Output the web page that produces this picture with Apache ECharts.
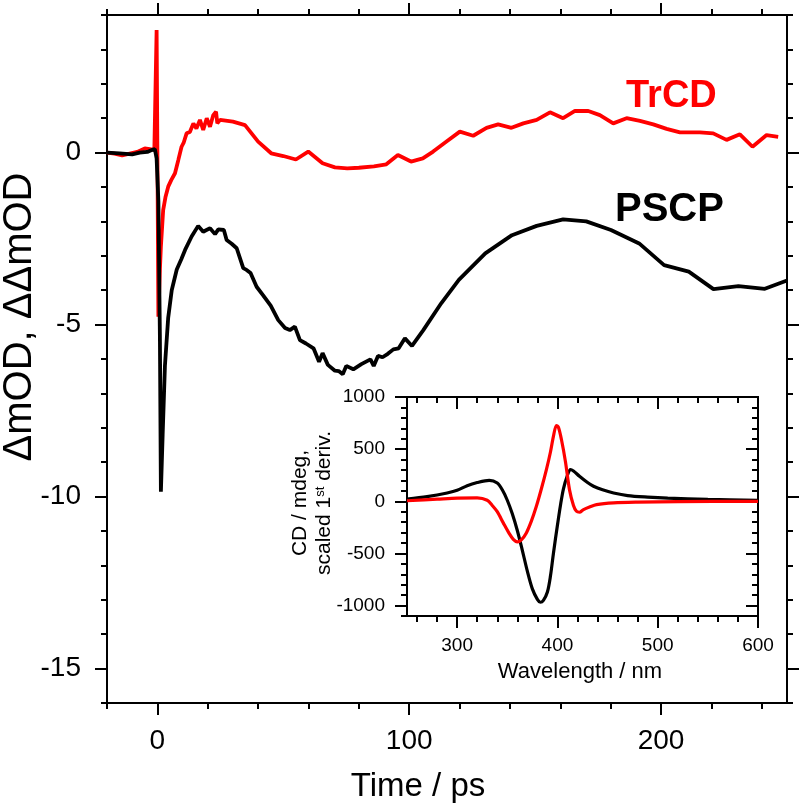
<!DOCTYPE html>
<html><head><meta charset="utf-8">
<script src="https://cdn.jsdelivr.net/npm/echarts@6/dist/echarts.min.js"></script>
<style>html,body{margin:0;padding:0;background:#fff}#c{width:805px;height:805px}</style>
</head><body><div id="c"></div>
<script>
// ---------- main panel data (Time / ps vs mOD) ----------
const pscpTime = [-20,-15,-10,-7,-4,-2,-1,-0.3,0.4,1.0,1.4,2.1,3.0,4.3,5.7,7.7,9.5,11,13.6,16.2,18.2,19.5,20.9,22.9,24.2,26.4,27.5,29.5,31.5,34.1,35.4,37,39.4,42,45,48,50.7,52.6,54.6,56.6,59,62,64.2,65.6,67.7,70.5,72,73.6,75,77.8,81,84.6,85.9,87.6,89.4,91.5,93.7,95.8,98.3,101.1,105.6,112.7,119.7,130.2,140.8,150.6,161.1,170.3,180.1,191.3,201.2,211,220.8,230.7,241.2,250];
const pscpValues = [0.0,-0.02,-0.05,0.0,0.02,0.08,0.1,-0.17,-1.4,-5.3,-9.86,-8.2,-6.2,-4.8,-4.0,-3.4,-3.1,-2.83,-2.44,-2.13,-2.3,-2.25,-2.2,-2.37,-2.23,-2.25,-2.54,-2.65,-2.78,-3.36,-3.41,-3.5,-3.9,-4.15,-4.45,-4.87,-5.1,-5.16,-5.06,-5.45,-5.55,-5.69,-6.08,-5.83,-6.17,-6.34,-6.35,-6.44,-6.2,-6.3,-6.15,-6.01,-6.2,-5.91,-5.95,-5.85,-5.72,-5.69,-5.4,-5.62,-5.16,-4.38,-3.7,-2.93,-2.4,-2.13,-1.94,-2.0,-2.25,-2.64,-3.27,-3.46,-3.97,-3.88,-3.96,-3.72];

const trcdTime = [-20,-17,-14,-11,-8,-5,-3,-1.2,-0.5,-0.3,0.1,0.4,1.0,1.4,2.3,3.2,4.3,5.5,7,8.3,9.6,10.5,11.6,12.9,14.3,15.5,16.9,18.2,19.6,20.9,22.2,23.3,23.8,24.9,30,34.8,40,45.2,50,55,59.9,65.6,70.5,75.4,80,86,90.9,95.5,100.7,105.4,109.5,114.8,120.1,125.4,130.7,135.3,140.6,145.3,150.6,155.9,161.1,165.8,171.1,175.7,181,186.3,191.6,196.9,202.2,207.5,215.4,220.7,226,231.3,236.3,241.9,246.5];
const trcdValues = [0.0,-0.03,-0.08,-0.03,0.02,0.12,0.1,0.08,0.05,3.56,-1.0,-4.77,-3.41,-2.73,-1.67,-1.3,-0.99,-0.8,-0.6,-0.22,0.17,0.3,0.56,0.6,0.85,0.7,0.95,0.66,1.0,0.75,1.09,1.19,0.85,0.95,0.9,0.8,0.32,-0.02,-0.1,-0.2,0.03,-0.31,-0.43,-0.46,-0.44,-0.4,-0.34,-0.07,-0.26,-0.17,0.03,0.32,0.61,0.49,0.72,0.82,0.72,0.85,0.95,1.17,1.0,1.21,1.21,1.09,0.85,1.0,0.92,0.82,0.69,0.59,0.59,0.56,0.37,0.53,0.17,0.51,0.46];

const mainXMajor = [0,100,200];
const mainYMajor = [-15,-10,-5,0];

// ---------- inset data (Wavelength / nm vs CD) ----------
const cdBlackWl = [250,270,290,300,310,320,332,340,345,350,355,360,365,370,375,380,383,386,390,393,396,400,403,406,410,413,416,422,430,436,445,456,470,490,510,550,600];
const cdBlackVal = [20,45,80,105,150,180,201,175,110,10,-120,-280,-470,-670,-840,-940,-968,-950,-870,-720,-500,-230,-40,120,250,305,290,240,180,144,110,80,55,40,30,18,10];
const cdRedWl = [250,280,300,320,330,335,340,346,352,356,360,364,369,374,379,384,389,393,396,399,401,404,408,412,416,419,422,426,432,439,456,480,520,600];
const cdRedVal = [5,20,30,33,10,-40,-100,-207,-310,-365,-390,-370,-303,-190,-48,120,304,470,623,726,710,592,380,112,-40,-96,-105,-80,-55,-32,-15,-8,-3,0];

const insetXMajor = [300,400,500,600];
const insetYMajor = [-1000,-500,0,500,1000];

function range(a,b,s){const r=[];for(let v=a;v<=b+1e-9;v+=s)r.push(Math.round(v*1000)/1000);return r;}
function zip(x,y){return x.map((v,i)=>[v,y[i]]);}

const FONT = '"Liberation Sans", Arial, sans-serif';
const lineBlack = {color:'#000', width:2};

function ax(o){
  return {
    type:'value', gridIndex:o.grid, position:o.pos, min:o.min, max:o.max,
    axisLine:{show:true, onZero:false, lineStyle:lineBlack},
    axisTick:{show:true, inside:!!o.inside, length:o.len, customValues:o.ticks, lineStyle:{color:'#000', width:2}},
    axisLabel:o.labels ? {show:true, customValues:o.labels, fontSize:o.fs, margin:o.margin, color:'#000', fontFamily:FONT, formatter:function(v){return String(v);}} : {show:false},
    splitLine:{show:false}
  };
}

const xAxes = [
  ax({grid:0,pos:'bottom',min:-20,max:250,ticks:range(-20,240,20),len:6}),
  ax({grid:0,pos:'bottom',min:-20,max:250,ticks:mainXMajor,len:12,labels:mainXMajor,fs:28,margin:24}),
  ax({grid:0,pos:'top',min:-20,max:250,ticks:range(-20,240,20),len:6}),
  ax({grid:0,pos:'top',min:-20,max:250,ticks:mainXMajor,len:12}),
  ax({grid:1,pos:'bottom',min:250,max:600,ticks:range(260,600,20),len:6}),
  ax({grid:1,pos:'bottom',min:250,max:600,ticks:insetXMajor,len:12,labels:insetXMajor,fs:19,margin:20}),
  ax({grid:1,pos:'top',min:250,max:600,ticks:range(260,600,20),len:6,inside:true}),
  ax({grid:1,pos:'top',min:250,max:600,ticks:insetXMajor,len:12,inside:true})
];
const yAxes = [
  ax({grid:0,pos:'left',min:-16,max:4,ticks:range(-16,4,1),len:6}),
  ax({grid:0,pos:'left',min:-16,max:4,ticks:mainYMajor,len:12,labels:mainYMajor,fs:28,margin:26}),
  ax({grid:0,pos:'right',min:-16,max:4,ticks:range(-16,4,1),len:6}),
  ax({grid:0,pos:'right',min:-16,max:4,ticks:mainYMajor,len:12}),
  ax({grid:1,pos:'left',min:-1100,max:1000,ticks:range(-1100,1000,100),len:6}),
  ax({grid:1,pos:'left',min:-1100,max:1000,ticks:insetYMajor,len:12,labels:insetYMajor,fs:19,margin:22}),
  ax({grid:1,pos:'right',min:-1100,max:1000,ticks:range(-1100,1000,100),len:6,inside:true}),
  ax({grid:1,pos:'right',min:-1100,max:1000,ticks:insetYMajor,len:12,inside:true})
];

const chart = echarts.init(document.getElementById('c'), null, {renderer:'canvas'});
chart.setOption({
  animation:false,
  backgroundColor:'#fff',
  grid:[
    {left:107, top:15, width:680, height:688, containLabel:false},
    {left:407, top:397, width:351, height:219, containLabel:false, show:true, backgroundColor:'#fff', borderWidth:0}
  ],
  xAxis:xAxes,
  yAxis:yAxes,
  series:[
    {name:'TrCD', type:'line', xAxisIndex:0, yAxisIndex:0, data:zip(trcdTime,trcdValues), showSymbol:false, lineStyle:{color:'#ff0000', width:3.8}, z:3},
    {name:'PSCP', type:'line', xAxisIndex:0, yAxisIndex:0, data:zip(pscpTime,pscpValues), showSymbol:false, lineStyle:{color:'#000', width:3.8}, z:4},
    {name:'CD', type:'line', xAxisIndex:4, yAxisIndex:4, data:zip(cdBlackWl,cdBlackVal), showSymbol:false, smooth:0.3, lineStyle:{color:'#000', width:3.2}, z:5},
    {name:'deriv', type:'line', xAxisIndex:4, yAxisIndex:4, data:zip(cdRedWl,cdRedVal), showSymbol:false, smooth:0.3, lineStyle:{color:'#ff0000', width:3.2}, z:6}
  ],
  graphic:[
    {type:'text', x:626, y:97, style:{text:'TrCD', font:'bold 38px '+FONT, fill:'#ff0000', align:'left', verticalAlign:'middle'}},
    {type:'text', x:615, y:210, style:{text:'PSCP', font:'bold 40px '+FONT, fill:'#000', align:'left', verticalAlign:'middle'}},
    {type:'text', x:418, y:787, style:{text:'Time / ps', font:'33px '+FONT, fill:'#000', align:'center', verticalAlign:'middle'}},
    {type:'text', x:20, y:317, rotation:Math.PI/2, style:{text:'\u0394mOD, \u0394\u0394mOD', font:'40px '+FONT, fill:'#000', align:'center', verticalAlign:'middle'}},
    {type:'text', x:580, y:672, style:{text:'Wavelength / nm', font:'22px '+FONT, fill:'#000', align:'center', verticalAlign:'middle'}},
    {type:'text', x:300, y:503, rotation:Math.PI/2, style:{text:'CD / mdeg,', font:'21px '+FONT, fill:'#000', align:'center', verticalAlign:'middle'}},
    {type:'text', x:324, y:503, rotation:Math.PI/2, style:{text:'scaled 1{sup|st} deriv.', font:'21px '+FONT, fill:'#000', align:'center', verticalAlign:'middle',
      rich:{sup:{fontSize:13, verticalAlign:'top', padding:[0,0,8,0], fontFamily:FONT}}}}
  ]
});
</script>
</body></html>
